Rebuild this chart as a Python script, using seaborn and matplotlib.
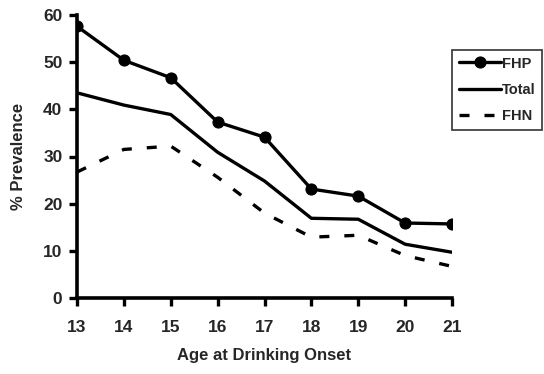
import numpy as np
import pandas as pd
import matplotlib
matplotlib.use("Agg")
import matplotlib.pyplot as plt
import seaborn as sns

ages = [13, 14, 15, 16, 17, 18, 19, 20, 21]
fhp = [57.6, 50.4, 46.7, 37.3, 34.1, 23.1, 21.6, 15.9, 15.7]
total = [43.5, 40.9, 38.9, 30.9, 24.8, 16.9, 16.7, 11.4, 9.7]
fhn = [26.7, 31.5, 32.2, 25.6, 18.0, 12.9, 13.3, 9.0, 6.7]
y_ticks = [0, 10, 20, 30, 40, 50, 60]

sns.set_style("white")
plt.rcParams["font.family"] = ["Liberation Sans", "DejaVu Sans"]
plt.rcParams["font.weight"] = "bold"

df = pd.DataFrame({
    "age": ages * 3,
    "prev": fhp + total + fhn,
    "group": ["FHP"] * 9 + ["Total"] * 9 + ["FHN"] * 9,
})

fig = plt.figure(figsize=(5.44, 3.74), dpi=100)
ax = fig.add_axes([77 / 544, 1 - 298 / 374, (452 - 77) / 544, (298 - 15) / 374])

lw = 2.4
sns.lineplot(data=df[df.group == "FHP"], x="age", y="prev", ax=ax, color="black",
             lw=lw, marker="o", markersize=8, markeredgecolor="black", label="FHP")
sns.lineplot(data=df[df.group == "Total"], x="age", y="prev", ax=ax, color="black",
             lw=lw, label="Total")
sns.lineplot(data=df[df.group == "FHN"], x="age", y="prev", ax=ax, color="black",
             lw=lw, label="FHN", dashes=False)
ax.lines[-1].set_dashes([3, 4.5])

ax.set_xlim(13, 21)
ax.set_ylim(0, 60)
ax.set_xticks(ages)
ax.set_yticks(y_ticks)
ax.set_xticklabels([str(a) for a in ages], fontsize=12.5, fontweight="bold")
ax.set_yticklabels([str(t) for t in y_ticks], fontsize=12.5, fontweight="bold")
ax.set_xlabel("Age at Drinking Onset", fontsize=12, fontweight="bold", labelpad=10)
ax.set_ylabel("% Prevalence", fontsize=12, fontweight="bold", labelpad=12)

for side in ["top", "right"]:
    ax.spines[side].set_visible(False)
for side in ["left", "bottom"]:
    ax.spines[side].set_linewidth(2.6)
    ax.spines[side].set_color("black")
ax.tick_params(axis="both", direction="out", length=5.5, width=2.4, color="black",
               left=True, bottom=True)
ax.tick_params(axis="x", pad=10)
ax.tick_params(axis="y", pad=5)
ax.spines["left"].set_zorder(5)

leg = ax.legend(loc="upper left", bbox_to_anchor=(452 / 544, 1 - 50 / 374),
                bbox_transform=fig.transFigure, frameon=True, fancybox=False,
                edgecolor="black", handlelength=2.9, handletextpad=0.05,
                borderpad=0.45, labelspacing=0.85, borderaxespad=0,
                prop={"weight": "bold", "size": 10.5})
leg.get_frame().set_linewidth(1.2)
for h in leg.get_lines():
    h.set_linewidth(2.4)

fig.savefig("out.png", dpi=100)
